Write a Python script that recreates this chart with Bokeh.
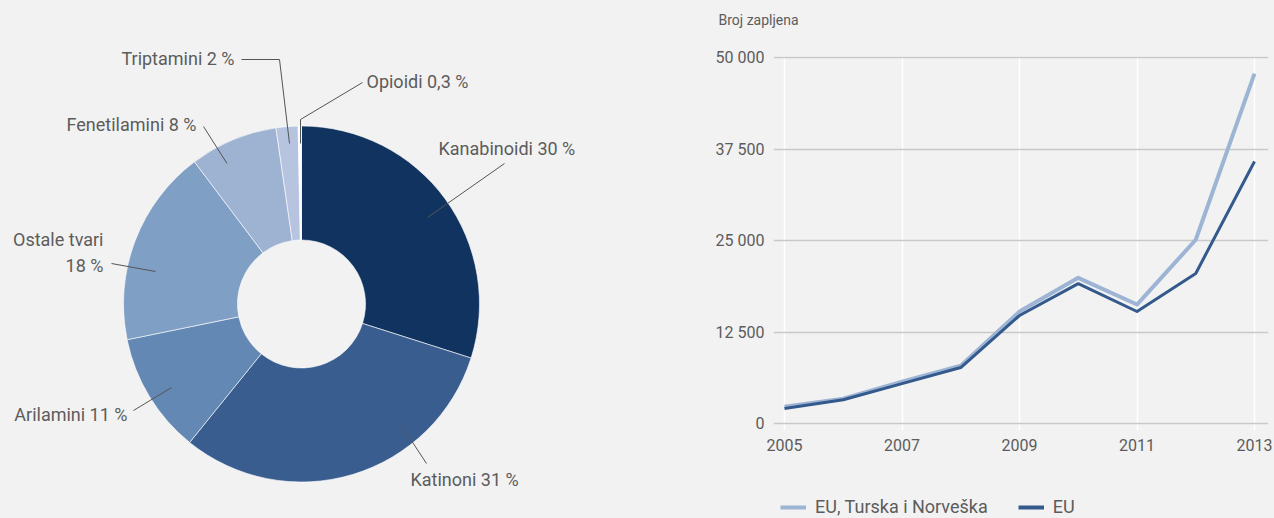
import math
from bokeh.plotting import figure
from bokeh.models import (Range1d, FixedTicker, Legend, LegendItem, Label,
                          GlobalInlineStyleSheet, ColumnDataSource)
from bokeh.layouts import row, column
from bokeh.embed import file_html
from bokeh.resources import INLINE
from bokeh.core.properties import value

# ---------------- data ----------------
categories = ["Kanabinoidi", "Katinoni", "Arilamini", "Ostale tvari",
              "Fenetilamini", "Triptamini", "Opioidi"]
shares = [30, 31, 11, 18, 8, 2, 0.3]
share_labels = ["Kanabinoidi 30 %", "Katinoni 31 %", "Arilamini 11 %",
                "Ostale tvari\n18 %", "Fenetilamini 8 %", "Triptamini 2 %",
                "Opioidi 0,3 %"]
slice_colors = ["#10335f", "#3a5d8f", "#6388b3", "#7f9fc4",
                "#9eb3d2", "#b6c4df", "#ffffff"]

years = [2005, 2006, 2007, 2008, 2009, 2010, 2011, 2012, 2013]
seizures_eu_tr_no = [2300, 3400, 5700, 7900, 15300, 19900, 16250, 25100, 47800]
seizures_eu = [2050, 3250, 5450, 7650, 14750, 19100, 15300, 20500, 35800]
series_names = ["EU, Turska i Norveška", "EU"]
series_colors = ["#9db4d5", "#34598c"]
y_ticks = [0, 12500, 25000, 37500, 50000]
y_tick_labels = ["0", "12 500", "25 000", "37 500", "50 000"]
x_ticks = [2005, 2007, 2009, 2011, 2013]
x_tick_labels = ["2005", "2007", "2009", "2011", "2013"]
y_title = "Broj zapljena"

# ---------------- style ----------------
BG = "#f2f2f2"
TXT = "#5c5c5c"
FONT = "Roboto"
W, H = 1274, 518
SPLIT = 648


def strip(width, height, xr, yr):
    f = figure(width=width, height=height, x_range=xr, y_range=yr,
               output_backend="svg", toolbar_location=None, min_border=0,
               x_axis_location=None, y_axis_location=None)
    f.grid.visible = False
    f.outline_line_color = None
    f.background_fill_color = BG
    f.border_fill_color = BG
    f.frame_align = False
    return f


# ---------------- donut ----------------
p1 = strip(SPLIT, H, Range1d(0, SPLIT), Range1d(0, H))


def sy(v):
    # page pixel row -> data y of the donut panel
    return H - v


cx, cy = 301, sy(303.5)
total = sum(shares)
starts, ends, acc = [], [], 0.0
for s in shares:
    starts.append(math.pi / 2 - 2 * math.pi * acc / total)
    acc += s
    ends.append(math.pi / 2 - 2 * math.pi * acc / total)

pie_src = ColumnDataSource(dict(cat=categories, start=starts, end=ends, color=slice_colors))
p1.annular_wedge(x=cx, y=cy, inner_radius=64, outer_radius=178,
                 start_angle="start", end_angle="end", direction="clock",
                 fill_color="color", line_color="white", line_width=0.6, source=pie_src)

# label layout (page pixels)
label_pos = {
    "Kanabinoidi": (438, 148, "left"),
    "Katinoni": (410, 479, "left"),
    "Arilamini": (127, 414, "right"),
    "Ostale tvari": (103, 252, "right"),
    "Fenetilamini": (196, 124, "right"),
    "Triptamini": (234, 58, "right"),
    "Opioidi": (366, 81, "left"),
}
leaders = {
    "Kanabinoidi": [(427, 217), (504, 163)],
    "Katinoni": [(401, 425), (426, 463)],
    "Arilamini": [(171, 387), (133, 410)],
    "Ostale tvari": [(155, 271), (111, 263)],
    "Fenetilamini": [(226.5, 163), (203, 126)],
    "Triptamini": [(289, 143), (279, 59), (241, 59)],
    "Opioidi": [(300, 143), (300, 119), (362, 82)],
}

p1.multi_line(xs=[[pt[0] for pt in leaders[c]] for c in categories],
              ys=[[sy(pt[1]) for pt in leaders[c]] for c in categories],
              line_color="#555555", line_width=1)

for align in ("left", "right"):
    idx = [i for i, c in enumerate(categories) if label_pos[c][2] == align]
    p1.text(x=[label_pos[categories[i]][0] for i in idx],
            y=[sy(label_pos[categories[i]][1]) for i in idx],
            text=[share_labels[i] for i in idx],
            text_align=align, text_baseline="middle", text_line_height=1.25,
            text_font=value(FONT), text_font_size="18px", text_color=TXT)

# ---------------- title strip ----------------
TOP_H = 36
p0 = strip(W - SPLIT, TOP_H, Range1d(SPLIT, W), Range1d(0, TOP_H))
p0.add_layout(Label(x=718, y=TOP_H - 19, text=y_title, text_baseline="middle",
                    text_align="left", text_font=FONT, text_font_size="14px",
                    text_color=TXT))

# ---------------- line chart ----------------
FL, FR = 773, 1268          # frame left/right on page
X0, X1 = 784, 1254          # page x of 2005 / 2013
ppy = (X1 - X0) / (years[-1] - years[0])
FT, FB = 56, 430            # frame top/bottom on page
Y0, Y50 = 423, 57           # page y of 0 / 50000
ppu = (Y0 - Y50) / 50000
LEG_H = 30
H2 = H - LEG_H - TOP_H

x_range = Range1d(years[0] - (X0 - FL) / ppy, years[-1] + (FR - X1) / ppy)
y_range = Range1d(-(FB - Y0) / ppu, 50000 + (Y50 - FT) / ppu)

p2 = figure(width=W - SPLIT, height=H2, x_range=x_range, y_range=y_range,
            output_backend="svg", toolbar_location=None,
            min_border_left=FL - SPLIT, min_border_right=W - FR,
            min_border_top=FT - TOP_H, min_border_bottom=H - LEG_H - FB)
p2.background_fill_color = BG
p2.border_fill_color = BG
p2.outline_line_color = None
p2.frame_align = False

p2.yaxis.ticker = FixedTicker(ticks=y_ticks)
p2.yaxis.major_label_overrides = {t: l for t, l in zip(y_ticks, y_tick_labels)}
p2.xaxis.ticker = FixedTicker(ticks=x_ticks)
p2.xaxis.major_label_overrides = {t: l for t, l in zip(x_ticks, x_tick_labels)}
for ax in (p2.xaxis, p2.yaxis):
    ax.axis_line_color = None
    ax.major_tick_line_color = None
    ax.minor_tick_line_color = None
    ax.major_label_text_font = FONT
    ax.major_label_text_font_size = "16px"
    ax.major_label_text_color = TXT
p2.yaxis.major_label_standoff = 3
p2.xaxis.major_label_standoff = 2

p2.xgrid.ticker = FixedTicker(ticks=x_ticks)
p2.xgrid.grid_line_color = "white"
p2.xgrid.grid_line_width = 1.5
p2.ygrid.ticker = FixedTicker(ticks=y_ticks)
p2.ygrid.grid_line_color = "#c9c9c9"
p2.ygrid.grid_line_width = 1.5

r1 = p2.line(years, seizures_eu_tr_no, line_color=series_colors[0], line_width=4, line_join="round")
r2 = p2.line(years, seizures_eu, line_color=series_colors[1], line_width=3, line_join="round")

# ---------------- legend strip ----------------
# proxy renderers carry the same series; the strip's ranges keep them off-screen
p3 = strip(W - SPLIT, LEG_H, Range1d(0, 1), Range1d(0, 1))
k1 = p3.line(x=years, y=seizures_eu_tr_no, line_color=series_colors[0], line_width=4)
k2 = p3.line(x=years, y=seizures_eu, line_color=series_colors[1], line_width=4)
legend = Legend(items=[LegendItem(label=series_names[0], renderers=[k1]),
                       LegendItem(label=series_names[1], renderers=[k2])],
                orientation="horizontal", location=(780 - SPLIT, 1),
                glyph_width=26, label_standoff=9, spacing=30, padding=0, margin=0,
                label_text_font=FONT, label_text_font_size="18px", label_text_color=TXT,
                background_fill_alpha=0, border_line_alpha=0)
p3.add_layout(legend)

layout = row(p1, column(p0, p2, p3),
             stylesheets=[GlobalInlineStyleSheet(css="html, body { background-color: #f2f2f2; }")])

open("out.html", "w").write(file_html(layout, INLINE))
